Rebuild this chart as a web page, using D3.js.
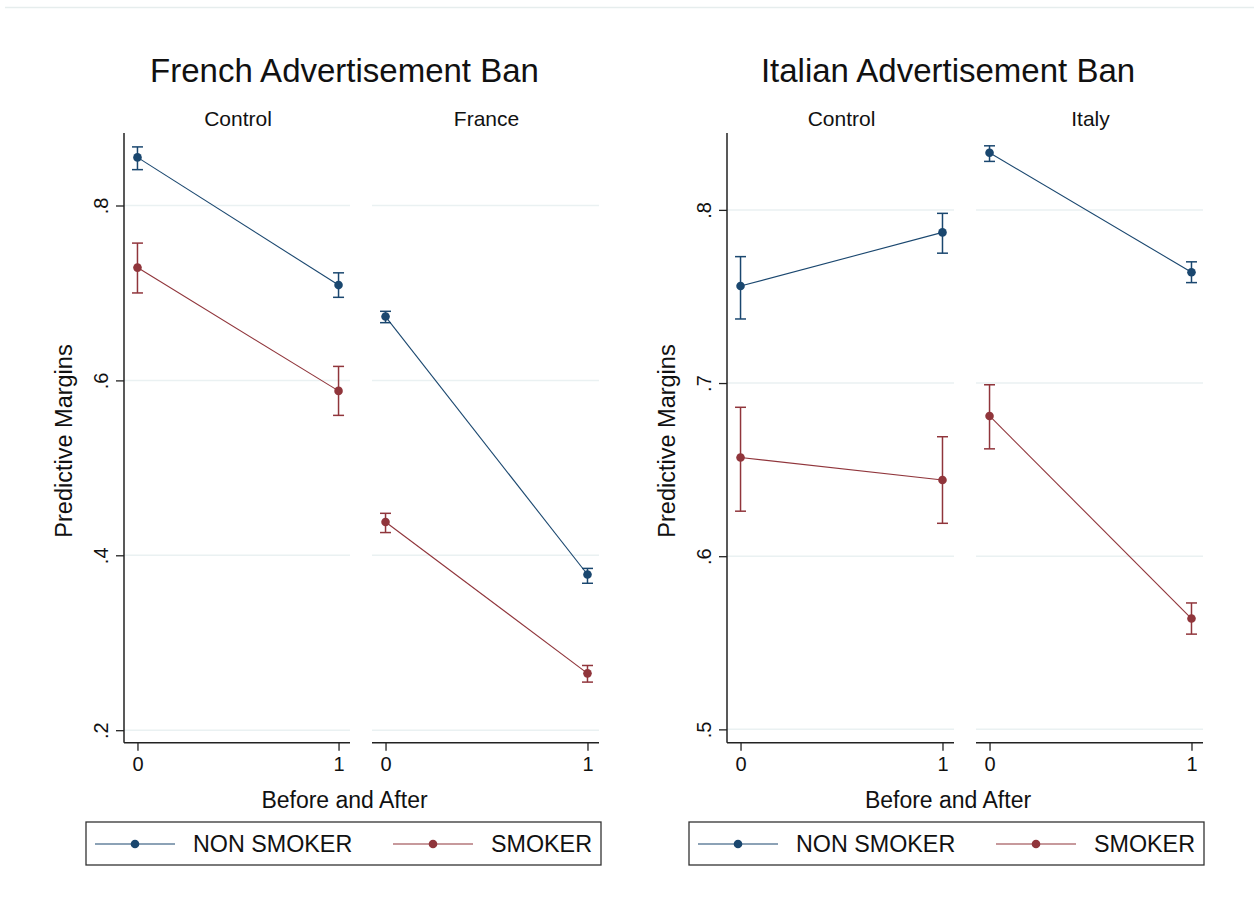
<!DOCTYPE html>
<html><head><meta charset="utf-8">
<script src="https://cdn.jsdelivr.net/npm/d3@7"></script>
<style>body{margin:0;background:#fff;} text{font-family:"Liberation Sans",Arial,sans-serif;fill:#111;}</style>
</head><body>
<svg id="c" width="1254" height="909"></svg>
<script>
// ---------- data ----------
const periods = [0, 1];
const seriesNames = ["NON SMOKER", "SMOKER"];
const seriesColors = ["#1a476f", "#90353b"];

const frenchTitle = "French Advertisement Ban";
const frenchPanels = ["Control", "France"];
const frenchNonMean = [[0.855, 0.709], [0.673, 0.378]];
const frenchNonLo   = [[0.841, 0.695], [0.666, 0.368]];
const frenchNonHi   = [[0.867, 0.723], [0.679, 0.385]];
const frenchSmkMean = [[0.729, 0.588], [0.438, 0.265]];
const frenchSmkLo   = [[0.700, 0.560], [0.426, 0.255]];
const frenchSmkHi   = [[0.757, 0.616], [0.448, 0.274]];
const frenchTicks = [0.2, 0.4, 0.6, 0.8];
const frenchTickLabels = [".2", ".4", ".6", ".8"];

const italianTitle = "Italian Advertisement Ban";
const italianPanels = ["Control", "Italy"];
const italianNonMean = [[0.756, 0.787], [0.833, 0.764]];
const italianNonLo   = [[0.737, 0.775], [0.828, 0.758]];
const italianNonHi   = [[0.773, 0.798], [0.837, 0.770]];
const italianSmkMean = [[0.657, 0.644], [0.681, 0.564]];
const italianSmkLo   = [[0.626, 0.619], [0.662, 0.555]];
const italianSmkHi   = [[0.686, 0.669], [0.699, 0.573]];
const italianTicks = [0.5, 0.6, 0.7, 0.8];
const italianTickLabels = [".5", ".6", ".7", ".8"];

const yLabel = "Predictive Margins";
const xLabel = "Before and After";

// ---------- drawing ----------
const svg = d3.select("#c");
svg.append("rect").attr("width",1254).attr("height",909).attr("fill","#fff");
svg.append("line").attr("x1",5).attr("x2",1254).attr("y1",7.5).attr("y2",7.5)
  .attr("stroke","#e6eded").attr("stroke-width",1.5);

function drawChart(cfg){
  const g = svg.append("g");
  const y = d3.scaleLinear().domain(cfg.yDomain).range([742.7, 133]);
  const panelsX = cfg.panelRanges.map(r => d3.scaleLinear().domain([-0.067, 1.057]).range(r));
  const midX = (cfg.panelRanges[0][0] + cfg.panelRanges[1][1]) / 2 - 17;

  g.append("text").attr("x", midX).attr("y", 82).attr("text-anchor","middle")
    .attr("font-size", 33).text(cfg.title);

  const series = [
    {mean: cfg.nonMean, lo: cfg.nonLo, hi: cfg.nonHi, color: seriesColors[0]},
    {mean: cfg.smkMean, lo: cfg.smkLo, hi: cfg.smkHi, color: seriesColors[1]}
  ];

  cfg.panels.forEach((name, pi) => {
    const x = panelsX[pi];
    const [x0, x1] = cfg.panelRanges[pi];
    const pg = g.append("g");
    pg.selectAll("line.grid").data(cfg.ticks).join("line")
      .attr("x1", x0).attr("x2", x1)
      .attr("y1", d => y(d)).attr("y2", d => y(d))
      .attr("stroke", "#eaf1f2").attr("stroke-width", 1.5);
    pg.append("text").attr("x", (x0 + x1) / 2 + 1).attr("y", 126)
      .attr("text-anchor","middle").attr("font-size", 21).text(name);
    const xa = pg.append("g").attr("transform", `translate(0,${y.range()[0]})`)
      .call(d3.axisBottom(x).tickValues(periods).tickFormat(d3.format("d")).tickSize(8).tickPadding(6));
    xa.select(".domain").attr("stroke","#222").attr("stroke-width",1.5).attr("d", `M${x0},0H${x1}`);
    xa.selectAll(".tick line").attr("stroke","#222").attr("stroke-width",1.3);
    xa.selectAll(".tick text").attr("font-size", 20).attr("font-family","Liberation Sans, Arial, sans-serif").attr("fill","#111");
    if (pi === 0) {
      const ya = pg.append("g").attr("transform", `translate(${x0},0)`)
        .call(d3.axisLeft(y).tickValues(cfg.ticks).tickFormat((d,i) => cfg.tickLabels[i]).tickSize(8).tickPadding(0));
      ya.select(".domain").attr("stroke","#222").attr("stroke-width",1.5).attr("d", `M0,${y.range()[1]}V${y.range()[0]}`);
      ya.selectAll(".tick line").attr("stroke","#222").attr("stroke-width",1.3);
      ya.selectAll(".tick text").attr("font-size", 20).attr("font-family","Liberation Sans, Arial, sans-serif").attr("fill","#111")
        .attr("transform", "translate(-16,0) rotate(-90)").attr("x", 0).attr("dy", 0)
        .attr("text-anchor","middle");
    }
    series.forEach(s => {
      const pts = periods.map((p, k) => ({x: p, m: s.mean[pi][k], lo: s.lo[pi][k], hi: s.hi[pi][k]}));
      pg.append("path").datum(pts)
        .attr("d", d3.line().x(d => x(d.x)).y(d => y(d.m)))
        .attr("fill","none").attr("stroke", s.color).attr("stroke-width", 1.1);
      const eb = pg.selectAll(null).data(pts).join("g").attr("stroke", s.color).attr("stroke-width", 1.5);
      eb.append("line").attr("x1", d => x(d.x)).attr("x2", d => x(d.x)).attr("y1", d => y(d.lo)).attr("y2", d => y(d.hi));
      eb.append("line").attr("x1", d => x(d.x) - 5.5).attr("x2", d => x(d.x) + 5.5).attr("y1", d => y(d.lo)).attr("y2", d => y(d.lo));
      eb.append("line").attr("x1", d => x(d.x) - 5.5).attr("x2", d => x(d.x) + 5.5).attr("y1", d => y(d.hi)).attr("y2", d => y(d.hi));
      pg.selectAll(null).data(pts).join("circle")
        .attr("cx", d => x(d.x)).attr("cy", d => y(d.m)).attr("r", 4.3).attr("fill", s.color);
    });
  });

  g.append("text").attr("transform", `translate(${cfg.panelRanges[0][0] - 52},441) rotate(-90)`)
    .attr("text-anchor","middle").attr("font-size", 23.5).text(yLabel);
  g.append("text").attr("x", midX).attr("y", 808).attr("text-anchor","middle")
    .attr("font-size", 23).text(xLabel);

  const lx = cfg.legendX;
  const lg = g.append("g");
  lg.append("rect").attr("x", lx).attr("y", 822).attr("width", 515).attr("height", 43)
    .attr("fill","none").attr("stroke","#333").attr("stroke-width",1.3);
  const offsets = [0, 298];
  seriesNames.forEach((nm, i) => {
    const ox = lx + 9 + offsets[i];
    lg.append("line").attr("x1", ox).attr("x2", ox + 80).attr("y1", 844).attr("y2", 844)
      .attr("stroke", seriesColors[i]).attr("stroke-width", 1.2);
    lg.append("circle").attr("cx", ox + 40).attr("cy", 844).attr("r", 4.3).attr("fill", seriesColors[i]);
    lg.append("text").attr("x", ox + 98).attr("y", 852).attr("font-size", 23.3).text(nm);
  });
}

drawChart({
  title: frenchTitle, panels: frenchPanels,
  nonMean: frenchNonMean, nonLo: frenchNonLo, nonHi: frenchNonHi,
  smkMean: frenchSmkMean, smkLo: frenchSmkLo, smkHi: frenchSmkHi,
  ticks: frenchTicks, tickLabels: frenchTickLabels,
  yDomain: [0.1857, 0.8829],
  panelRanges: [[124, 350], [372, 599]],
  legendX: 86
});
drawChart({
  title: italianTitle, panels: italianPanels,
  nonMean: italianNonMean, nonLo: italianNonLo, nonHi: italianNonHi,
  smkMean: italianSmkMean, smkLo: italianSmkLo, smkHi: italianSmkHi,
  ticks: italianTicks, tickLabels: italianTickLabels,
  yDomain: [0.4923, 0.8444],
  panelRanges: [[727, 954], [976, 1203]],
  legendX: 689
});
</script>
</body></html>
